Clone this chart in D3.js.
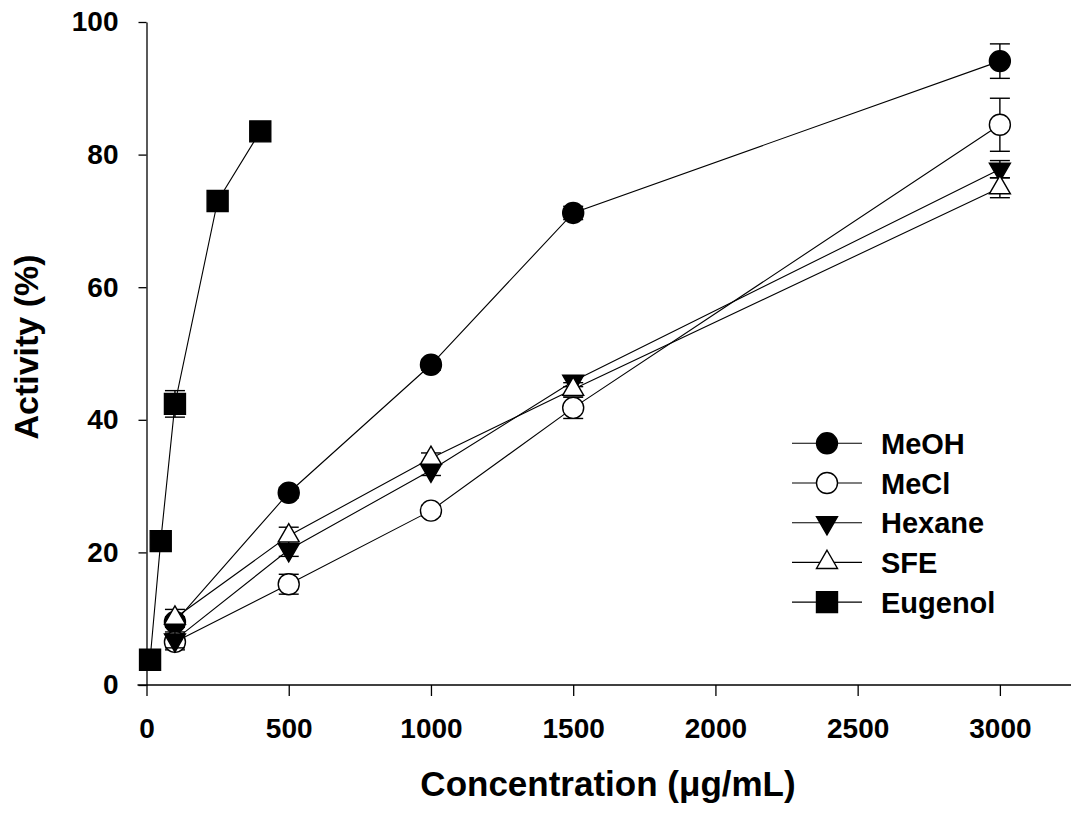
<!DOCTYPE html>
<html>
<head>
<meta charset="utf-8">
<script src="https://cdn.jsdelivr.net/npm/d3@7"></script>
<style>
  html, body { margin: 0; padding: 0; background: #fff; }
  svg text { font-family: "Liberation Sans", Arial, sans-serif; font-weight: bold; fill: #000; }
</style>
</head>
<body>
<svg id="chart" width="1071" height="818"></svg>
<script>
// Extract concentrations (µg/mL)
const extractConc = [100, 500, 1000, 1500, 3000];
const eugenolConc = [12.5, 50, 100, 250, 400];

// Mean activity (%) per series
const meohValues    = [9.5, 29.0, 48.3, 71.2, 94.1];
const meclValues    = [6.5, 15.2, 26.3, 41.8, 84.5];
const hexaneValues  = [6.8, 20.4, 32.4, 45.8, 77.8];
const sfeValues     = [10.1, 22.5, 34.2, 44.6, 75.0];
const eugenolValues = [3.8, 21.7, 42.4, 73.0, 83.5];

// Error bar half-widths (%)
const meohErr    = [0.8, 0.8, 0.8, 1.0, 2.6];
const meclErr    = [1.2, 1.5, 0.8, 1.6, 4.0];
const hexaneErr  = [1.2, 1.0, 0.8, 0.8, 1.3];
const sfeErr     = [1.3, 1.3, 0.8, 1.0, 1.5];
const eugenolErr = [0.3, 0.5, 2.0, 1.2, 0.5];

const seriesNames = ["MeOH", "MeCl", "Hexane", "SFE", "Eugenol"];
const xTicks = [0, 500, 1000, 1500, 2000, 2500, 3000];
const yTicks = [0, 20, 40, 60, 80, 100];

const series = [
  { name: seriesNames[0], x: extractConc, y: meohValues,    e: meohErr,    shape: "circle",   fill: "#000" },
  { name: seriesNames[1], x: extractConc, y: meclValues,    e: meclErr,    shape: "circle",   fill: "#fff" },
  { name: seriesNames[2], x: extractConc, y: hexaneValues,  e: hexaneErr,  shape: "triDown",  fill: "#000" },
  { name: seriesNames[3], x: extractConc, y: sfeValues,     e: sfeErr,     shape: "triUp",    fill: "#fff" },
  { name: seriesNames[4], x: eugenolConc, y: eugenolValues, e: eugenolErr, shape: "square",   fill: "#000" }
];

const svg = d3.select("#chart");

const x = d3.scaleLinear().domain([0, 3250]).range([146.5, 1071]);
const y = d3.scaleLinear().domain([0, 100]).range([685, 22]);

// Marker path generators
const symbolPath = {
  circle:  d3.symbol().type(d3.symbolCircle).size(Math.PI * 10.5 * 10.5)(),
  square:  d3.symbol().type(d3.symbolSquare).size(21 * 21)(),
  triUp:   d3.symbol().type(d3.symbolTriangle).size(191)(),
  triDown: d3.symbol().type(d3.symbolTriangle).size(191)()
};
function drawMarker(g, shape, fill, cx, cy) {
  g.append("path")
    .attr("d", symbolPath[shape])
    .attr("transform", `translate(${cx},${cy})` + (shape === "triDown" ? " rotate(180)" : ""))
    .attr("fill", fill)
    .attr("stroke", "#000")
    .attr("stroke-width", 1.4);
}

// Axes
const xAxis = d3.axisBottom(x).tickValues(xTicks).tickFormat(d3.format("d"))
  .tickSize(11).tickSizeOuter(0).tickPadding(22);
const yAxis = d3.axisLeft(y).tickValues(yTicks).tickFormat(d3.format("d"))
  .tickSize(8).tickSizeOuter(0).tickPadding(20);

const gx = svg.append("g").attr("transform", `translate(0,${y(0)})`).call(xAxis);
const gy = svg.append("g").attr("transform", `translate(${x(0)},0)`).call(yAxis);
[gx, gy].forEach(g => {
  g.selectAll("path, line").attr("stroke", "#000").attr("stroke-width", 1.3);
  g.selectAll("text").attr("font-size", 28).attr("fill", "#000");
});
// extend the baseline left to meet the y tick at zero
gx.select(".domain").attr("d", `M${x(0) - 9},0H1071`);

// Axis titles
svg.append("text")
  .attr("x", 608)
  .attr("y", 796)
  .attr("text-anchor", "middle")
  .attr("font-size", 35)
  .text("Concentration (\u03BCg/mL)");

svg.append("text")
  .attr("transform", "translate(38,347) rotate(-90)")
  .attr("text-anchor", "middle")
  .attr("font-size", 34)
  .text("Activity (%)");

// Connecting lines
const plot = svg.append("g");
const line = d3.line().x(d => x(d[0])).y(d => y(d[1]));
series.forEach(s => {
  plot.append("path")
    .datum(s.x.map((xv, i) => [xv, s.y[i]]))
    .attr("d", line)
    .attr("fill", "none")
    .attr("stroke", "#000")
    .attr("stroke-width", 1.1);
});

// Error bars and markers
series.forEach(s => {
  const g = plot.append("g");
  s.x.forEach((xv, i) => {
    const cx = x(xv), top = y(s.y[i] + s.e[i]), bot = y(s.y[i] - s.e[i]);
    g.append("line").attr("x1", cx).attr("x2", cx).attr("y1", top).attr("y2", bot)
      .attr("stroke", "#000").attr("stroke-width", 1.4);
    [top, bot].forEach(yy => {
      g.append("line").attr("x1", cx - 10).attr("x2", cx + 10).attr("y1", yy).attr("y2", yy)
        .attr("stroke", "#000").attr("stroke-width", 1.4);
    });
  });
  s.x.forEach((xv, i) => drawMarker(g, s.shape, s.fill, x(xv), y(s.y[i])));
});

// Legend
const legend = svg.append("g");
series.forEach((s, i) => {
  const cy = 443.3 + i * 39.7;
  legend.append("line").attr("x1", 792).attr("x2", 862).attr("y1", cy).attr("y2", cy)
    .attr("stroke", "#000").attr("stroke-width", 1.1);
  drawMarker(legend, s.shape, s.fill, 827, cy);
  legend.append("text")
    .attr("x", 881)
    .attr("y", cy + 10.5)
    .attr("font-size", 29)
    .text(s.name);
});
</script>
</body>
</html>
